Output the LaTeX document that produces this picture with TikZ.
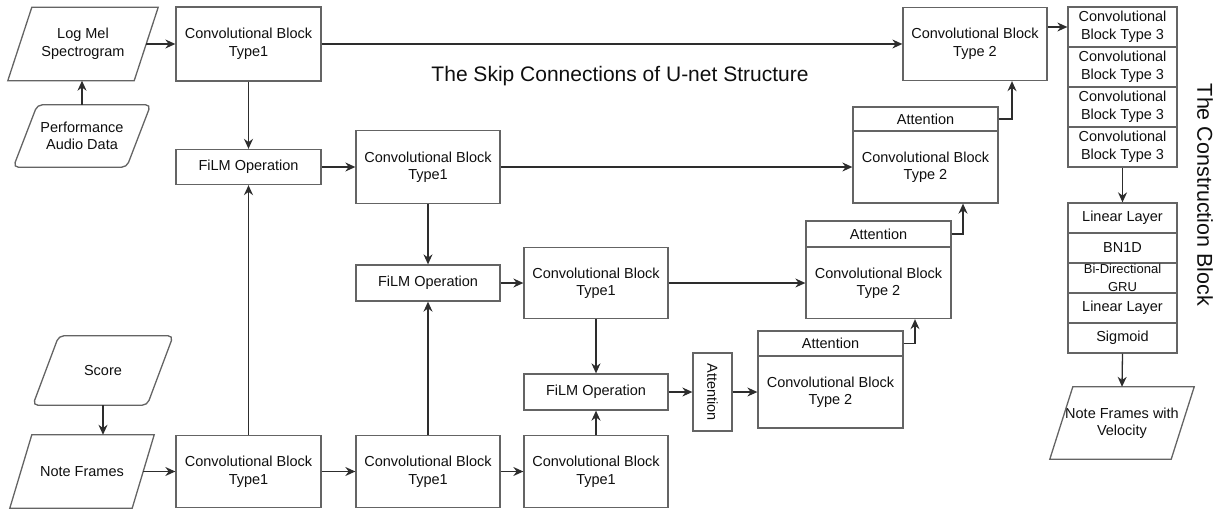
\documentclass[tikz,border=0pt]{standalone}
\usepackage{fontspec}
\setmainfont{Liberation Sans}
\usepackage{graphicx}
\usetikzlibrary{calc,arrows.meta}
\definecolor{bord}{RGB}{100,100,100}
\definecolor{lin}{RGB}{45,45,45}
\definecolor{txt}{RGB}{15,15,15}
\tikzset{
 blk/.style={draw=bord, line width=1.3pt, text=txt, align=center, inner sep=0pt, font=\fontsize{14.5}{17.5}\selectfont},
 inv/.style={inner sep=0pt, align=center, text=txt, font=\fontsize{14.5}{17.5}\selectfont},
 pbord/.style={draw=bord, line width=1.3pt},
 arr/.style={draw=lin, line width=1.3pt, -{Stealth[length=10pt,width=9pt]}},
}
\newcommand\mypara[3][]{%
 \draw[pbord,#1] ($(#2.north west)+(#3,0)$) -- ($(#2.north east)+(#3,0)$) -- ($(#2.south east)-(#3,0)$) -- ($(#2.south west)-(#3,0)$) -- cycle;}
\begin{document}
\begin{tikzpicture}[x=1pt,y=-1pt]
\useasboundingbox (0,0) rectangle (1223,511);

% input / output parallelograms
\node[inv, minimum width=126pt, minimum height=73pt] (lm) at (83,44) {Log Mel\\Spectrogram};
\mypara{lm}{12}
\node[inv, minimum width=113pt, minimum height=62pt] (pa) at (82,136) {Performance\\Audio Data};
\mypara[rounded corners=5pt]{pa}{12}
\node[inv, minimum width=114pt, minimum height=69pt] (sc) at (103,370.5) {Score};
\mypara[rounded corners=5pt]{sc}{13}
\node[inv, minimum width=122pt, minimum height=73pt] (nf) at (82,471.5) {Note Frames};
\mypara{nf}{11}
\node[inv, minimum width=121pt, minimum height=72pt] (out) at (1122,423) {Note Frames with\\Velocity};
\mypara{out}{11.5}

% encoder column blocks
\node[blk, minimum width=145pt, minimum height=74pt] (c1a) at (248.5,44) {Convolutional Block\\Type1};
\node[blk, minimum width=145pt, minimum height=35pt] (f1) at (248.5,167) {FiLM Operation};
\node[blk, minimum width=144pt, minimum height=73pt] (c1b) at (428,167) {Convolutional Block\\Type1};
\node[blk, minimum width=144pt, minimum height=36pt] (f2) at (428,283) {FiLM Operation};
\node[blk, minimum width=144pt, minimum height=71pt] (c1c) at (596,283) {Convolutional Block\\Type1};
\node[blk, minimum width=144pt, minimum height=36pt] (f3) at (596,392) {FiLM Operation};
\node[blk, minimum width=39pt, minimum height=78pt] (att) at (712.5,392) {\rotatebox{-90}{Attention}};

\node[blk, minimum width=145pt, minimum height=72pt] (b1) at (248.5,471.5) {Convolutional Block\\Type1};
\node[blk, minimum width=144pt, minimum height=72pt] (b2) at (428,471.5) {Convolutional Block\\Type1};
\node[blk, minimum width=144pt, minimum height=72pt] (b3) at (596,471.5) {Convolutional Block\\Type1};

% decoder blocks
\node[blk, minimum width=144pt, minimum height=73pt] (c2t) at (975,44) {Convolutional Block\\Type 2};
\node[blk, minimum width=145pt, minimum height=24pt] (c2ah) at (925.5,119) {Attention};
\node[blk, minimum width=145pt, minimum height=72pt] (c2ab) at (925.5,167) {Convolutional Block\\Type 2};
\node[blk, minimum width=145pt, minimum height=26pt] (c2bh) at (878.5,234) {Attention};
\node[blk, minimum width=145pt, minimum height=71pt] (c2bb) at (878.5,283) {Convolutional Block\\Type 2};
\node[blk, minimum width=145pt, minimum height=25pt] (c2ch) at (830.5,343.5) {Attention};
\node[blk, minimum width=145pt, minimum height=72pt] (c2cb) at (830.5,392) {Convolutional Block\\Type 2};

% construction block
\foreach \i/\y in {1/27,2/67,3/107,4/147}{
 \node[blk, minimum width=109pt, minimum height=40pt] (s\i) at (1122.5,\y) {Convolutional\\Block Type 3};
}
\node[blk, minimum width=109pt, minimum height=30pt] (l1) at (1122.5,218) {Linear Layer};
\node[blk, minimum width=109pt, minimum height=30pt] (l2) at (1122.5,248) {BN1D};
\node[blk, minimum width=109pt, minimum height=30pt, font=\fontsize{13}{18}\selectfont] (l3) at (1122.5,278) {Bi-Directional\\GRU};
\node[blk, minimum width=109pt, minimum height=30pt] (l4) at (1122.5,308) {Linear Layer};
\node[blk, minimum width=109pt, minimum height=30pt] (l5) at (1122.5,338) {Sigmoid};

% labels
\node[inv, font=\fontsize{21}{24}\selectfont] (ttl) at (620,76) {The Skip Connections of U-net Structure};
\node[inv, rotate=-90, font=\fontsize{21.5}{24}\selectfont] (cb) at (1205,195) {The Construction Block};

% helper coordinates
\coordinate (k1) at (915,0);
\coordinate (k2) at (963,0);
\coordinate (k3) at (1012,0);

% connectors
\draw[arr] (pa.north) -- (pa.north |- lm.south);
\draw[arr] (lm.east) -- (c1a.west);
\draw[arr] (c1a.south) -- (f1.north);
\draw[arr] (f1.east) -- (c1b.west);
\draw[arr] (c1b.south) -- (f2.north);
\draw[arr] (f2.east) -- (c1c.west);
\draw[arr] (c1c.south) -- (f3.north);
\draw[arr] (f3.east) -- (att.west);
\draw[arr] (att.east) -- (c2cb.west);

\draw[arr] (sc.south) -- (sc.south |- nf.north);
\draw[arr] (nf.east) -- (b1.west);
\draw[arr] (b1.east) -- (b2.west);
\draw[arr] (b2.east) -- (b3.west);
\draw[arr] (b1.north) -- (f1.south);
\draw[arr] (b2.north) -- (f2.south);
\draw[arr] (b3.north) -- (f3.south);

\draw[arr] (c1a.east) -- (c2t.west);
\draw[arr] (c1b.east) -- (c2ab.west);
\draw[arr] (c1c.east) -- (c2bb.west);

\draw[arr] (c2ch.east) -| (k1 |- c2bb.south);
\draw[arr] (c2bh.east) -| (k2 |- c2ab.south);
\draw[arr] (c2ah.east) -| (k3 |- c2t.south);

\draw[arr] (c2t.east |- s1.west) -- (s1.west);
\draw[arr] (s4.south) -- (l1.north);
\draw[arr] (l5.south) -- (out.north);
\end{tikzpicture}
\end{document}
